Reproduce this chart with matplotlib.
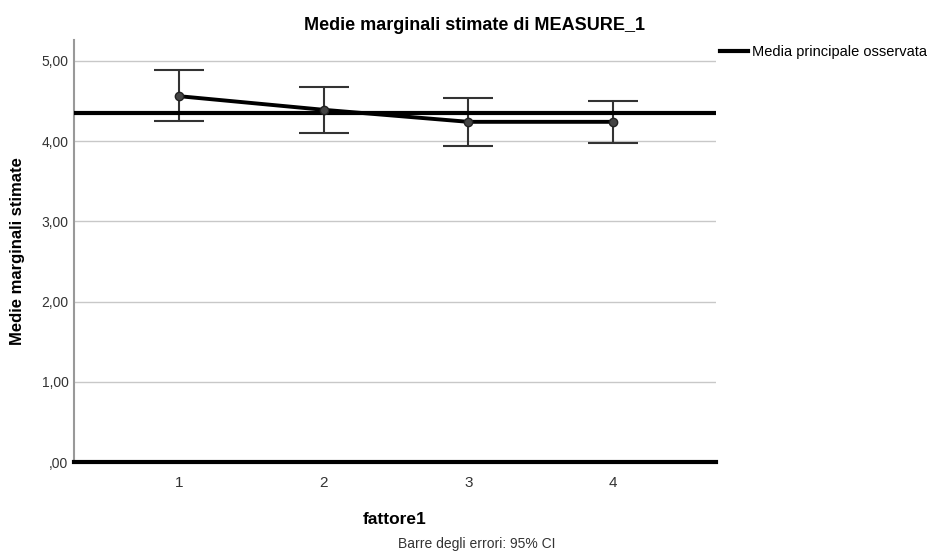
import matplotlib
matplotlib.use("Agg")
import matplotlib.pyplot as plt
import numpy as np

plt.rcParams['font.family'] = ['Liberation Sans', 'DejaVu Sans']

categories = ["1", "2", "3", "4"]
means = [4.56, 4.39, 4.24, 4.24]
ci_low = [4.25, 4.10, 3.94, 3.98]
ci_high = [4.88, 4.68, 4.54, 4.50]
grand_mean = 4.35
yticks = [0, 1, 2, 3, 4, 5]
ytick_labels = [",00", "1,00", "2,00", "3,00", "4,00", "5,00"]

fig = plt.figure(figsize=(9.27, 5.58), dpi=100)
ax = fig.add_axes([74/927, 1-462/558, (716-74)/927, (462-40)/558])

x = np.arange(1, len(categories)+1)
means_a = np.array(means)
yerr = np.array([means_a - np.array(ci_low), np.array(ci_high) - means_a])

ax.set_xlim(0.276, 4.71)
ax.set_ylim(0, 5.26)

for yt in yticks[1:]:
    ax.axhline(yt, color="#c8c8c8", lw=1.0, zorder=1)
ax.axhline(0, color="black", lw=3, zorder=3, clip_on=False)

ax.errorbar(x, means, yerr=yerr, fmt="none", ecolor="#333333", elinewidth=1.5,
            capsize=18, capthick=1.5, zorder=4)
gm_line = ax.axhline(grand_mean, color="black", lw=3, zorder=5, label="Media principale osservata")
ax.plot(x, means, color="black", lw=2.8, zorder=6)
ax.plot(x, means, "o", ms=6, mfc="#444444", mec="#222222", mew=1, zorder=7)

ax.set_yticks(yticks)
ax.set_yticklabels(ytick_labels, fontsize=10, color="#333333")
ax.set_xticks(x)
ax.set_xticklabels(categories, fontsize=11, color="#333333")
ax.tick_params(length=0, axis="both")
ax.tick_params(axis="y", pad=4)
ax.tick_params(axis="x", pad=10)

for s in ["top", "right", "bottom"]:
    ax.spines[s].set_visible(False)
ax.spines["left"].set_color("#999999")
ax.spines["left"].set_linewidth(1.5)

ax.set_ylabel("Medie marginali stimate", fontsize=12, fontweight="bold", labelpad=12)
ax.set_xlabel("fattore1", fontsize=12.5, fontweight="bold", labelpad=16)

fig.text(475/927, 1-25/558, "Medie marginali stimate di MEASURE_1", ha="center",
         va="center", fontsize=13, fontweight="bold")

fig.legend(handles=[gm_line], loc="center left",
           bbox_to_anchor=(720/927, 1-52/558), frameon=False, fontsize=10.5,
           handlelength=1.9, handletextpad=0.27, borderaxespad=0, borderpad=0)

fig.text(477/927, 1-544/558, "Barre degli errori: 95% CI", ha="center", va="center",
         fontsize=10, color="#333333")

fig.savefig("out.png", dpi=100)
